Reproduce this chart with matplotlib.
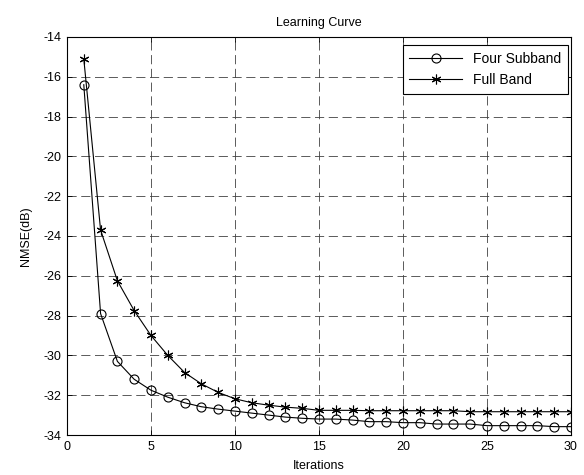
import matplotlib

matplotlib.use("Agg")
import matplotlib.pyplot as plt


ITERATIONS = list(range(1, 31))

FOUR_SUBBAND = [
    -16.4, -27.9, -30.3, -31.2, -31.75, -32.1, -32.38, -32.58, -32.7, -32.8,
    -32.9, -33.0, -33.1, -33.16, -33.2, -33.2, -33.25, -33.33, -33.33, -33.38,
    -33.38, -33.45, -33.45, -33.45, -33.53, -33.53, -33.53, -33.53, -33.58, -33.58,
]

FULL_BAND = [
    -15.1, -23.7, -26.25, -27.75, -29.0, -30.0, -30.86, -31.43, -31.86, -32.18,
    -32.38, -32.5, -32.6, -32.66, -32.76, -32.76, -32.76, -32.78, -32.78, -32.78,
    -32.78, -32.78, -32.78, -32.83, -32.83, -32.83, -32.83, -32.83, -32.83, -32.83,
]

SERIES_LABELS = ["Four Subband", "Full Band"]


def main() -> None:
    plt.rcParams.update(
        {
            "font.family": "Liberation Sans",
            "font.size": 9,
            "axes.unicode_minus": False,
            "figure.facecolor": "white",
            "axes.facecolor": "white",
        }
    )

    fig = plt.figure(figsize=(5.84, 4.75), dpi=100)
    ax = fig.add_axes([0.1147, 0.0842, 0.863, 0.838])

    ax.plot(ITERATIONS, FOUR_SUBBAND, color="black", linewidth=0.8, marker="o",
            markersize=6.5, markerfacecolor="none", markeredgewidth=0.8,
            label=SERIES_LABELS[0])
    ax.plot(ITERATIONS, FULL_BAND, color="black", linewidth=0.8, marker=(6, 2, 0),
            markersize=7, markeredgewidth=0.8, label=SERIES_LABELS[1])

    ax.set_xlim(0, 30)
    ax.set_ylim(-34, -14)
    ax.set_xticks(range(0, 31, 5))
    ax.set_yticks(range(-34, -13, 2))
    ax.tick_params(direction="in", length=3.6, width=0.6, top=True, right=True,
                   labelsize=9, pad=4)
    ax.grid(True, color="#404040", linestyle=(0, (11, 5.5)), linewidth=0.6)
    for spine in ax.spines.values():
        spine.set_linewidth(0.8)

    ax.set_title("Learning Curve", fontsize=9, pad=8)
    ax.set_xlabel("Iterations", fontsize=9, labelpad=5)
    ax.set_ylabel("NMSE(dB)", fontsize=9, labelpad=8)

    leg = ax.legend(loc="upper right", bbox_to_anchor=(0.995, 0.979),
                    fancybox=False, framealpha=1, edgecolor="black",
                    fontsize=10, handlelength=3.8, borderaxespad=0,
                    borderpad=0.5)
    leg.get_frame().set_linewidth(0.8)

    fig.savefig("out.png", dpi=100)
    plt.close(fig)


if __name__ == "__main__":
    main()
